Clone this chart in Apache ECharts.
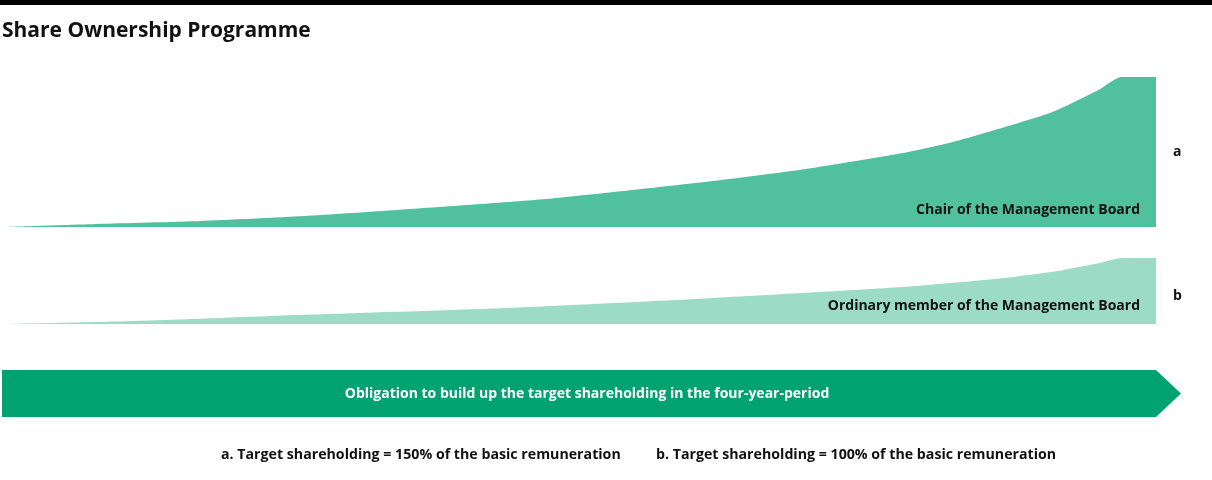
<!DOCTYPE html>
<html>
<head>
<meta charset="utf-8">
<script src="https://cdn.jsdelivr.net/npm/echarts@6/dist/echarts.min.js"></script>
<style>
  html, body { margin: 0; padding: 0; background: #ffffff; }
  #chart { width: 1212px; height: 480px; }
</style>
</head>
<body>
<div id="chart"></div>
<script>
// Progress through the four-year period (%), and the build-up of the target shareholding
const chairPeriod = [0, 8, 17, 26, 34, 47, 60, 69, 78, 82, 86, 91, 95, 97, 100];
const chairValues = [0, 3, 6, 11, 17, 28, 44, 57, 74, 84, 97, 115, 137, 150, 150];  // up to 150%
const memberPeriod = [0, 8, 17, 26, 43, 60, 78, 86, 91, 95, 97, 100];
const memberValues = [0, 3, 8, 14, 24, 38, 56, 68, 79, 92, 100, 100];               // up to 100%

const titleText = 'Share Ownership Programme';
const chairLabel = 'Chair of the Management Board';
const memberLabel = 'Ordinary member of the Management Board';
const arrowLabel = 'Obligation to build up the target shareholding in the four-year-period';
const noteA = 'a. Target shareholding = 150% of the basic remuneration';
const noteB = 'b. Target shareholding = 100% of the basic remuneration';

const FONT = '"Open Sans"';
const chart = echarts.init(document.getElementById('chart'), null, { renderer: 'canvas' });

function pairs(xs, ys) { return xs.map((x, i) => [x, ys[i]]); }

const option = {
  animation: false,
  backgroundColor: '#ffffff',
  grid: [
    { left: 5, right: 56, top: 77, height: 150 },
    { left: 5, right: 56, top: 258, height: 66 }
  ],
  xAxis: [
    { type: 'value', gridIndex: 0, min: 0, max: 100, show: false },
    { type: 'value', gridIndex: 1, min: 0, max: 100, show: false }
  ],
  yAxis: [
    { type: 'value', gridIndex: 0, min: 0, max: 150, show: false },
    { type: 'value', gridIndex: 1, min: 0, max: 100, show: false }
  ],
  series: [
    {
      type: 'line', xAxisIndex: 0, yAxisIndex: 0,
      data: pairs(chairPeriod, chairValues),
      smooth: 0.2, showSymbol: false, clip: true,
      lineStyle: { width: 0 },
      areaStyle: { color: '#50C19C', opacity: 1 }
    },
    {
      type: 'line', xAxisIndex: 1, yAxisIndex: 1,
      data: pairs(memberPeriod, memberValues),
      smooth: 0.2, showSymbol: false, clip: true,
      lineStyle: { width: 0 },
      areaStyle: { color: '#9CDCC7', opacity: 1 }
    }
  ],
  graphic: [
    { type: 'rect', left: 0, top: 0, shape: { width: 1212, height: 5 }, style: { fill: '#000000' } },
    { type: 'text', x: 2, y: 31, z: 100, style: { text: titleText, fill: '#111111', font: 'bold 21px ' + FONT, verticalAlign: 'middle' } },
    { type: 'text', x: 1140, y: 210, z: 100, style: { text: chairLabel, fill: '#111111', font: 'bold 14px ' + FONT, align: 'right', verticalAlign: 'middle' } },
    { type: 'text', x: 1140, y: 306, z: 100, style: { text: memberLabel, fill: '#111111', font: 'bold 14px ' + FONT, align: 'right', verticalAlign: 'middle' } },
    { type: 'text', x: 1173, y: 152, z: 100, style: { text: 'a', fill: '#111111', font: 'bold 14px ' + FONT, verticalAlign: 'middle' } },
    { type: 'text', x: 1173, y: 296, z: 100, style: { text: 'b', fill: '#111111', font: 'bold 14px ' + FONT, verticalAlign: 'middle' } },
    {
      type: 'polygon', z: 50,
      shape: { points: [[2, 370], [1156, 370], [1181, 393.5], [1156, 417], [2, 417]] },
      style: { fill: '#00A36F' }
    },
    {
      type: 'text', x: 587, y: 394, z: 100,
      style: { text: arrowLabel, fill: '#ffffff', font: 'bold 14px ' + FONT, align: 'center', verticalAlign: 'middle' }
    },
    { type: 'text', x: 221, y: 455, z: 100, style: { text: noteA, fill: '#111111', font: 'bold 14.2px ' + FONT, verticalAlign: 'middle' } },
    { type: 'text', x: 656, y: 455, z: 100, style: { text: noteB, fill: '#111111', font: 'bold 14.2px ' + FONT, verticalAlign: 'middle' } }
  ]
};
chart.setOption(option);
</script>
</body>
</html>
